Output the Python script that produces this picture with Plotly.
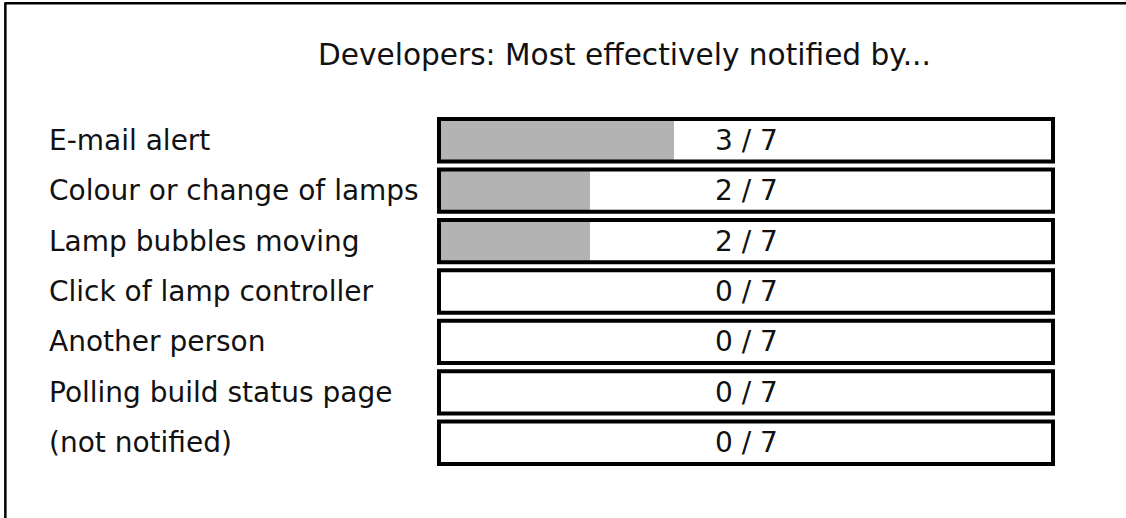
import plotly.graph_objects as go

# ---- data ----
title_text = "Developers: Most effectively notified by..."
categories = [
    "E-mail alert",
    "Colour or change of lamps",
    "Lamp bubbles moving",
    "Click of lamp controller",
    "Another person",
    "Polling build status page",
    "(not notified)",
]
counts = [3, 2, 2, 0, 0, 0, 0]
total = 7

# ---- layout geometry (pixels) ----
W, H = 1126, 518
L, R = 439, 1126 - 1053.5
T, B = 114.8, 518 - 467.7
PW = W - L - R
PH = H - T - B

def px_x(p):
    return (p - L) / PW

def px_y(p):
    return 1 - (p - T) / PH

FONT = "DejaVu Sans"
FS = 28
GREY = "#b3b3b3"

idx = list(range(len(categories)))

fig = go.Figure()
fig.add_trace(go.Bar(
    x=counts, y=idx, orientation="h", width=0.84,
    marker=dict(color=GREY, line=dict(width=0)),
    hoverinfo="skip", showlegend=False,
))

shapes = []
annotations = []
for i, (cat, c) in enumerate(zip(categories, counts)):
    shapes.append(dict(type="rect", xref="x domain", yref="y",
                       x0=0, x1=1, y0=i - 0.42, y1=i + 0.42,
                       line=dict(color="black", width=4), fillcolor="rgba(0,0,0,0)"))
    annotations.append(dict(text=cat, xref="paper", yref="y", x=px_x(47), y=i,
                            xanchor="left", yanchor="middle", showarrow=False,
                            font=dict(family=FONT, size=FS, color="#111")))
    annotations.append(dict(text=f"{c} / {total}", xref="x domain", yref="y", x=0.5, y=i,
                            xanchor="center", yanchor="middle", showarrow=False,
                            font=dict(family=FONT, size=FS, color="#111")))

annotations.append(dict(text=title_text, xref="paper", yref="paper",
                        x=px_x(625), y=px_y(55), xanchor="center", yanchor="middle",
                        showarrow=False, font=dict(family=FONT, size=29.6, color="#111")))

# outer frame (top and left edges)
shapes.append(dict(type="line", xref="paper", yref="paper",
                   x0=px_x(5), x1=px_x(W + 5), y0=px_y(3), y1=px_y(3),
                   line=dict(color="black", width=2.5)))
shapes.append(dict(type="line", xref="paper", yref="paper",
                   x0=px_x(5), x1=px_x(5), y0=px_y(2), y1=px_y(H + 5),
                   line=dict(color="black", width=2.5)))

fig.update_layout(
    width=W, height=H,
    margin=dict(l=L, r=R, t=T, b=B, pad=0),
    paper_bgcolor="white", plot_bgcolor="white",
    xaxis=dict(range=[0.2, 7.52], visible=False, fixedrange=True),
    yaxis=dict(range=[6.5, -0.5], visible=False, fixedrange=True),
    shapes=shapes, annotations=annotations,
    bargap=0, showlegend=False,
)

fig.write_html("out.html", config={"displayModeBar": False},
               post_script="document.body.style.margin='0';document.body.style.overflow='hidden';")
